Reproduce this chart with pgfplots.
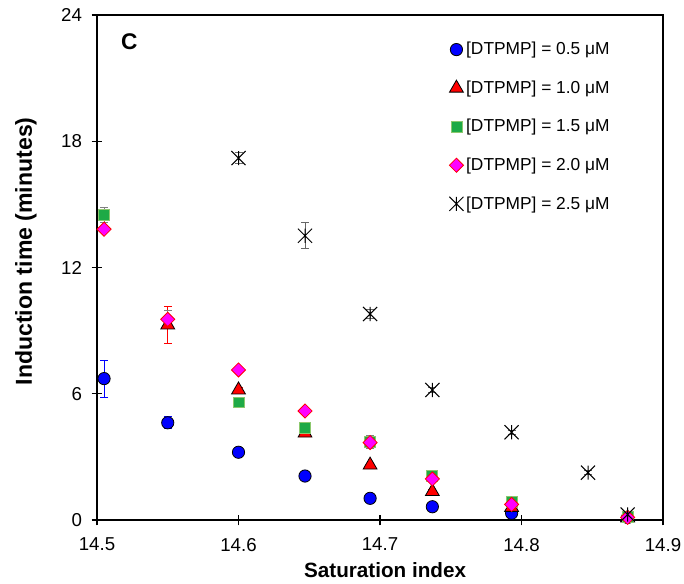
\documentclass[border=0pt]{standalone}
\usepackage{fontspec}
\setmainfont{Liberation Sans}
\usepackage{pgfplots}
\usepackage{pgfplotstable}
\pgfplotsset{compat=1.18}

\definecolor{mblue}{RGB}{0,0,255}
\definecolor{mred}{RGB}{255,0,0}
\definecolor{mgreen}{RGB}{30,170,70}
\definecolor{mgreenedge}{RGB}{140,200,110}
\definecolor{mmag}{RGB}{255,0,255}

\pgfdeclareplotmark{xstar}{%
  \pgfpathmoveto{\pgfqpoint{0pt}{\pgfplotmarksize}}%
  \pgfpathlineto{\pgfqpoint{0pt}{-\pgfplotmarksize}}%
  \pgfpathmoveto{\pgfqpoint{-\pgfplotmarksize}{\pgfplotmarksize}}%
  \pgfpathlineto{\pgfqpoint{\pgfplotmarksize}{-\pgfplotmarksize}}%
  \pgfpathmoveto{\pgfqpoint{-\pgfplotmarksize}{-\pgfplotmarksize}}%
  \pgfpathlineto{\pgfqpoint{\pgfplotmarksize}{\pgfplotmarksize}}%
  \pgfusepathqstroke}
\pgfdeclareplotmark{rdiamond}{%
  \pgfpathmoveto{\pgfqpoint{0pt}{\pgfplotmarksize}}%
  \pgfpathlineto{\pgfqpoint{\pgfplotmarksize}{0pt}}%
  \pgfpathlineto{\pgfqpoint{0pt}{-\pgfplotmarksize}}%
  \pgfpathlineto{\pgfqpoint{-\pgfplotmarksize}{0pt}}%
  \pgfpathclose
  \pgfusepathqfillstroke}

\pgfplotstableread{
x y e
14.505 6.72 0.87
14.550 4.62 0.28
14.600 3.22 0.08
14.647 2.09 0.08
14.693 1.03 0.06
14.737 0.63 0.05
14.793 0.32 0.05
14.875 0.12 0.04
}\dA
\pgfplotstableread{
x y e
14.550 9.27 0.86
14.600 6.18 0.12
14.647 4.13 0.15
14.693 2.61 0.10
14.737 1.35 0.10
14.793 0.60 0.05
14.875 0.10 0.05
}\dB
\pgfplotstableread{
x y e
14.505 14.50 0.35
14.600 5.59 0.10
14.647 4.39 0.10
14.693 3.72 0.30
14.737 2.09 0.10
14.793 0.87 0.05
14.875 0.15 0.05
}\dC
\pgfplotstableread{
x y e
14.505 13.82 0.10
14.550 9.54 0.40
14.600 7.13 0.10
14.647 5.18 0.10
14.693 3.68 0.30
14.737 1.95 0.10
14.793 0.74 0.05
14.875 0.12 0.05
}\dD
\pgfplotstableread{
x y e
14.600 17.20 0.25
14.647 13.51 0.62
14.693 9.79 0.22
14.737 6.18 0.10
14.793 4.17 0.10
14.847 2.25 0.10
14.875 0.26 0.10
}\dE

\begin{document}
\begin{tikzpicture}
\path[use as bounding box] (-72.75pt,-48pt) rectangle (440.25pt,390pt);
\begin{axis}[
  at={(0,0)}, anchor=south west, scale only axis,
  width=424.5pt, height=378.75pt,
  xmin=14.5, xmax=14.9, ymin=0, ymax=24,
  xtick={14.5,14.6,14.7,14.8,14.9},
  ytick={0,6,12,18,24},
  xtick pos=bottom, ytick pos=left,
  tick align=center, major tick length=8pt,
  axis line style={line width=1pt},
  tick style={line width=0.9pt, black},
  /pgf/number format/assume math mode=true,
  ticklabel style={font=\fontsize{14}{16}\selectfont},
  xticklabel style={yshift=-6pt, /pgf/number format/fixed, /pgf/number format/precision=1, /pgf/number format/fixed zerofill},
  yticklabel style={xshift=-3.75pt},
  xlabel={Saturation index},
  ylabel={Induction time (minutes)},
  xlabel style={font=\fontsize{15.5}{18}\selectfont\bfseries, at={(axis description cs:0.509,-0.099)}, anchor=center},
  ylabel style={font=\fontsize{17.3}{20}\selectfont\bfseries, at={(axis description cs:-0.1254,0.532)}, anchor=center},
  clip=false,
  legend cell align=left,
  legend style={at={(axis description cs:0.615,0.957)}, anchor=north west,
    draw=none, fill=none, font=\fontsize{13}{15}\selectfont, row sep=14pt,
    /tikz/every odd column/.append style={column sep=0pt}},
  legend image code/.code={\draw[#1] plot coordinates {(0cm,0cm)};},
  error bars/y dir=both, error bars/y explicit,
  error bars/error mark options={rotate=90, mark size=3pt, line width=0.6pt},
]
\addplot[only marks, mark=*, mark size=4.6pt, fill=mblue, draw=black, line width=0.6pt,
  error bars/error bar style={mblue, line width=0.6pt}]
  table[x=x, y=y, y error=e] {\dA};
\addlegendentry{[DTPMP] = 0.5 μM}
\addplot[only marks, mark=triangle*, mark size=6pt, fill=mred, draw=black, line width=0.6pt,
  error bars/error bar style={mred, line width=0.6pt}]
  table[x=x, y=y, y error=e] {\dB};
\addlegendentry{[DTPMP] = 1.0 μM}
\addplot[only marks, mark=square*, mark size=4.1pt, fill=mgreen, draw=mgreenedge, line width=0.6pt,
  error bars/error bar style={gray, line width=0.6pt}]
  table[x=x, y=y, y error=e] {\dC};
\addlegendentry{[DTPMP] = 1.5 μM}
\addplot[only marks, mark=rdiamond, mark size=5.3pt, fill=mmag, draw=mred, line width=0.6pt,
  error bars/error bar style={gray, line width=0.6pt}]
  table[x=x, y=y, y error=e] {\dD};
\addlegendentry{[DTPMP] = 2.0 μM}
\addplot[only marks, mark=xstar, mark size=5.3pt, draw=black, line width=0.75pt,
  error bars/error bar style={gray!80!black, line width=0.6pt}]
  table[x=x, y=y, y error=e] {\dE};
\addlegendentry{[DTPMP] = 2.5 μM}
\node[font=\fontsize{17}{20}\selectfont\bfseries] at (rel axis cs:0.057,0.948) {C};
\end{axis}
\end{tikzpicture}
\end{document}
